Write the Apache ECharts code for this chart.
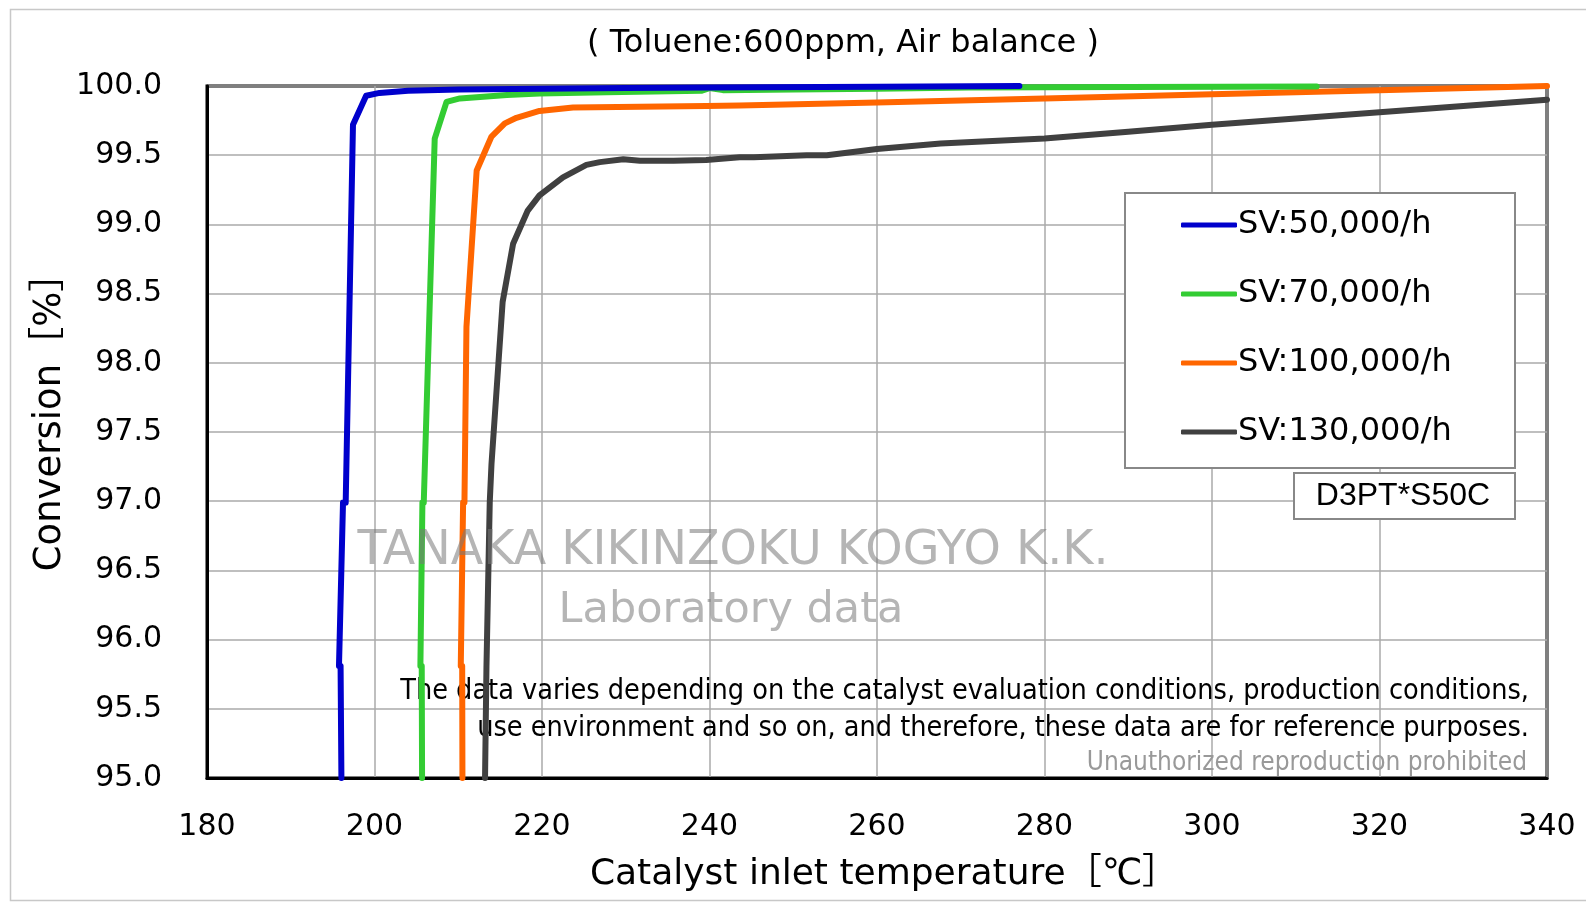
<!DOCTYPE html>
<html>
<head>
    <meta charset="utf-8">
    <title>Toluene conversion</title>
    <script src="https://cdn.jsdelivr.net/npm/echarts@6/dist/echarts.min.js"></script>
    <style>
        html, body { margin: 0; padding: 0; background: #fff; }
    </style>
</head>
<body>
<div id="main" style="width: 1586px;height:909px;"></div>
<script type="text/javascript">
    var myChart = echarts.init(document.getElementById('main'));

    // data: [temperature degC, conversion %], '-' = line break
    var seriesNames = ['SV:50,000/h', 'SV:70,000/h', 'SV:100,000/h', 'SV:130,000/h'];
    var seriesColors = ['#0000cc', '#33cc33', '#ff6600', '#404040'];

    var sv50 = [
        [196.05, 95], [195.95, 95.81], [195.95, '-'],
        [195.76, 95.81], [196.24, 96.99], [196.3, '-'],
        [196.56, 96.99], [197.43, 99.72], [199.0, 99.93], [200.6, 99.95],
        [204.0, 99.965], [210.0, 99.975], [220.0, 99.98], [230.0, 99.985],
        [240.0, 99.99], [260.0, 99.995], [277.0, 100.0]
    ];
    var sv70 = [
        [205.68, 95], [205.64, 95.81], [205.6, '-'],
        [205.48, 95.81], [205.72, 96.99], [205.8, '-'],
        [205.88, 96.99], [207.19, 99.62], [208.6, 99.885], [210.2, 99.91],
        [215.8, 99.935], [219.7, 99.945], [227.7, 99.955], [239.0, 99.965],
        [240.0, 99.985], [241.6, 99.97], [250.0, 99.975], [260.0, 99.98],
        [271.0, 99.99], [290.0, 99.993], [312.5, 99.997]
    ];
    var sv100 = [
        [210.5, 95], [210.47, 95.81], [210.4, '-'],
        [210.3, 95.81], [210.58, 96.99], [210.6, '-'],
        [210.74, 96.99], [210.98, 98.26], [212.2, 99.39], [213.97, 99.635],
        [215.56, 99.73], [216.95, 99.77], [219.7, 99.82], [223.7, 99.845],
        [231.7, 99.85], [239.6, 99.855], [243.6, 99.86], [260.0, 99.88],
        [280.0, 99.91], [300.0, 99.94], [320.0, 99.97], [340.0, 100.0]
    ];
    var sv130 = [
        [213.2, 95], [213.37, 95.81], [213.76, 96.99], [213.97, 97.27],
        [215.3, 98.44], [216.55, 98.86], [218.3, 99.1], [219.7, 99.21],
        [222.5, 99.34], [225.3, 99.43], [226.9, 99.45], [229.7, 99.47],
        [231.7, 99.46], [235.7, 99.46], [239.6, 99.465], [243.6, 99.485],
        [245.3, 99.485], [251.6, 99.5], [254.0, 99.5], [260.0, 99.545],
        [267.6, 99.585], [280.0, 99.62], [290.0, 99.67], [300.0, 99.72],
        [320.0, 99.81], [340.0, 99.9]
    ];
    var seriesData = [sv50, sv70, sv100, sv130];

    var xTicks = { min: 180, max: 340, interval: 20 };
    var yTicks = { min: 95, max: 100, interval: 0.5 };

    var font = '"DejaVu Sans", Verdana, "Noto Sans CJK JP", sans-serif';
    var condFont = '"DejaVu Sans Condensed", "DejaVu Sans", sans-serif';

    var series = [];
    for (var i = seriesData.length - 1; i >= 0; i--) {
        series.push({
            name: seriesNames[i],
            type: 'line',
            data: seriesData[i],
            symbol: 'none',
            connectNulls: false,
            color: seriesColors[i],
            lineStyle: { width: 6, color: seriesColors[i], join: 'round', cap: 'round' },
            z: 5 + (seriesData.length - i)
        });
    }

    option = {
        animation: false,
        backgroundColor: '#fff',
        textStyle: { fontFamily: font },
        grid: {
            left: 207, right: 39, top: 86, bottom: 131,
            show: true, borderColor: '#000', borderWidth: 3
        },
        legend: {
            data: seriesNames,
            orient: 'vertical',
            left: 1176,
            top: 204,
            icon: 'roundRect',
            itemWidth: 56,
            itemHeight: 5,
            itemGap: 37,
            textStyle: { fontFamily: font, fontSize: 32, lineHeight: 31, color: '#000', padding: [0, 0, 0, -4] },
            z: 20
        },
        xAxis: {
            type: 'value',
            min: xTicks.min, max: xTicks.max, interval: xTicks.interval,
            name: 'Catalyst inlet temperature［℃］',
            nameLocation: 'middle',
            nameGap: 79,
            nameTextStyle: { fontFamily: font, fontSize: 36, color: '#000', padding: [0, 0, 0, 14] },
            axisLine: { show: true, lineStyle: { color: '#000', width: 3 } },
            axisTick: { show: false },
            axisLabel: { fontFamily: font, fontSize: 30, color: '#000', margin: 34 },
            splitLine: { show: true, lineStyle: { color: '#aaa', width: 1.5 } }
        },
        yAxis: {
            type: 'value',
            min: yTicks.min, max: yTicks.max, interval: yTicks.interval,
            axisLine: { show: true, lineStyle: { color: '#000', width: 3 } },
            axisTick: { show: false },
            axisLabel: {
                fontFamily: font, fontSize: 30, color: '#000', margin: 45,
                formatter: function (v) { return v.toFixed(1); }
            },
            splitLine: { show: true, lineStyle: { color: '#aaa', width: 1.5 } }
        },
        graphic: [
            // outer frame
            { type: 'rect', left: 8, top: 7, z: -10, silent: true,
              shape: { width: 1580, height: 891 },
              style: { fill: null, stroke: '#c8c8c8', lineWidth: 1.5 } },
            // title
            { type: 'text', x: 843, y: 44, z: 5, silent: true,
              style: { text: '( Toluene:600ppm, Air balance )', font: '32px ' + font,
                       fill: '#000', align: 'center', verticalAlign: 'middle' } },
            // y axis name
            { type: 'text', x: 50, y: 413, rotation: Math.PI / 2, z: 5, silent: true,
              style: { text: 'Conversion［%］', font: '37px ' + font,
                       fill: '#000', align: 'center', verticalAlign: 'middle' } },
            // legend box
            { type: 'rect', left: 1124, top: 192, z: 15, silent: true,
              shape: { width: 390, height: 275 },
              style: { fill: '#fff', stroke: '#888', lineWidth: 2 } },
            // catalyst label
            { type: 'rect', left: 1293, top: 472, z: 15, silent: true,
              shape: { width: 221, height: 46 },
              style: { fill: '#fff', stroke: '#888', lineWidth: 2 } },
            { type: 'text', x: 1403, y: 496, z: 16, silent: true,
              style: { text: 'D3PT*S50C', font: '32px "Liberation Sans", Arial, sans-serif',
                       fill: '#000', align: 'center', verticalAlign: 'middle' } },
            // watermark
            { type: 'text', x: 733, y: 552, z: 30, silent: true,
              style: { text: 'TANAKA KIKINZOKU KOGYO K.K.', font: '47.5px ' + font,
                       fill: 'rgba(120,120,120,0.55)', align: 'center', verticalAlign: 'middle' } },
            { type: 'text', x: 731, y: 611, z: 30, silent: true,
              style: { text: 'Laboratory data', font: '43px ' + font,
                       fill: 'rgba(120,120,120,0.55)', align: 'center', verticalAlign: 'middle' } },
            // notes
            { type: 'text', x: 1529, y: 692, z: 3, silent: true,
              style: { text: 'The data varies depending on the catalyst evaluation conditions, production conditions,',
                       font: '28.5px ' + condFont, fill: '#000', align: 'right', verticalAlign: 'middle' } },
            { type: 'text', x: 1529, y: 729, z: 3, silent: true,
              style: { text: 'use environment and so on, and therefore, these data are for reference purposes.',
                       font: '28.5px ' + condFont, fill: '#000', align: 'right', verticalAlign: 'middle' } },
            { type: 'text', x: 1527, y: 763, z: 3, silent: true,
              style: { text: 'Unauthorized reproduction prohibited',
                       font: '26px ' + condFont, fill: '#999', align: 'right', verticalAlign: 'middle' } }
        ],
        series: series
    };

    myChart.setOption(option);
</script>
</body>
</html>
